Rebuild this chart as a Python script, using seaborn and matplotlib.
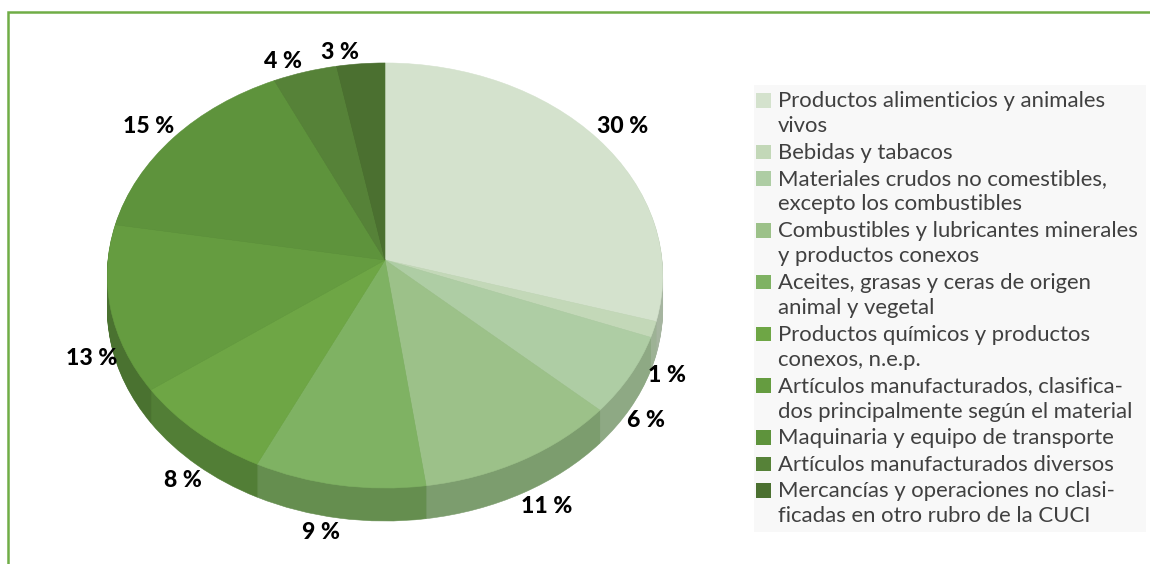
import numpy as np
import matplotlib
matplotlib.use("Agg")
import matplotlib.pyplot as plt
from matplotlib.patches import Rectangle
from matplotlib.transforms import Transform
import seaborn as sns

# Datos
categorias = [
    "Productos alimenticios y animales\nvivos",
    "Bebidas y tabacos",
    "Materiales crudos no comestibles,\nexcepto los combustibles",
    "Combustibles y lubricantes minerales\ny productos conexos",
    "Aceites, grasas y ceras de origen\nanimal y vegetal",
    "Productos químicos y productos\nconexos, n.e.p.",
    "Artículos manufacturados, clasifica-\ndos principalmente según el material",
    "Maquinaria y equipo de transporte",
    "Artículos manufacturados diversos",
    "Mercancías y operaciones no clasi-\nficadas en otro rubro de la CUCI",
]
valores = [29.6, 1.2, 6.0, 11.0, 9.3, 7.9, 12.7, 15.3, 4.0, 3.0]
etiquetas = ["30 %", "1 %", "6 %", "11 %", "9 %", "8 %", "13 %", "15 %", "4 %", "3 %"]

# Colores
colores = sns.color_palette(["#d4e2cd", "#c3d8b8", "#aecda4", "#9cc189", "#7fb263",
                             "#6ea645", "#659c40", "#5e933c", "#568238", "#4b7030"])
lados = sns.color_palette(["#a6b5a0", "#9db295", "#8ea984", "#7c9d6e", "#658e4f",
                           "#527e36", "#4a7230", "#4a7230", "#44682c", "#3c5a26"])

# Separación de cada etiqueta respecto al borde del sector, en píxeles
desplazamientos = [(25, -12), (13, 46), (16, 45), (24, 46), (-18, 47),
                   (-14, 48), (-19, 50), (-25, -11), (-22, -10), (-21, -11)]

sns.set_theme(style="white")
plt.rcParams["font.family"] = ["Lato", "DejaVu Sans"]

# Pastel en perspectiva
CX, CY, RX, RY, K = 385, 260, 277, 211.4, 0.0729
GROSOR = 33


def proyectar(x, y, prof=0):
    d = 1 + K * y
    return CX + RX * x / d, CY + prof - RY * y / d


class Perspectiva(Transform):
    input_dims = 2
    output_dims = 2

    def __init__(self, prof=0):
        super().__init__()
        self.prof = prof

    def transform_non_affine(self, values):
        px, py = proyectar(values[:, 0], values[:, 1], self.prof)
        return np.column_stack([px, py])


fig = plt.figure(figsize=(11.5, 5.64), dpi=100)
ax = fig.add_axes([0, 0, 1, 1])


def dibujar_pastel(cols, prof):
    wedges, _ = ax.pie(valores, colors=cols, startangle=90, counterclock=False,
                       wedgeprops={"linewidth": 0.4})
    for w, c in zip(wedges, cols):
        w.set_edgecolor(c)
        w.set_transform(Perspectiva(prof) + ax.transData)


for prof in range(GROSOR, 0, -1):
    dibujar_pastel(lados, prof)
dibujar_pastel(colores, 0)

ax.set_aspect("auto")
ax.set_xlim(0, 1150)
ax.set_ylim(564, 0)
ax.axis("off")

# Etiquetas de porcentaje
acum = np.cumsum(valores)
medios = (acum - np.array(valores) / 2) / acum[-1] * 2 * np.pi
for ang, txt, (dx, dy) in zip(medios, etiquetas, desplazamientos):
    px, py = proyectar(np.sin(ang), np.cos(ang))
    ax.text(px + dx, py + dy, txt, ha="center", va="center",
            fontsize=16.6, fontweight="black", color="black")

# Marco
ax.plot([8, 8, 1150], [564, 12, 12], color="#70ad47", lw=1.8, solid_joinstyle="miter",
        clip_on=False)

# Leyenda
ax.add_patch(Rectangle((754, 85), 392, 447, facecolor="#f8f8f8", edgecolor="none"))
y = 100
for cat, c in zip(categorias, colores):
    ax.add_patch(Rectangle((756, y - 7), 14.5, 14.5, facecolor=c, edgecolor="none"))
    n = cat.count("\n") + 1
    ax.text(778, y - 9, cat, ha="left", va="top", fontsize=15.9, color="#404040",
            linespacing=1.32)
    y += n * 25.4 + 1

fig.savefig("out.png", dpi=100)
